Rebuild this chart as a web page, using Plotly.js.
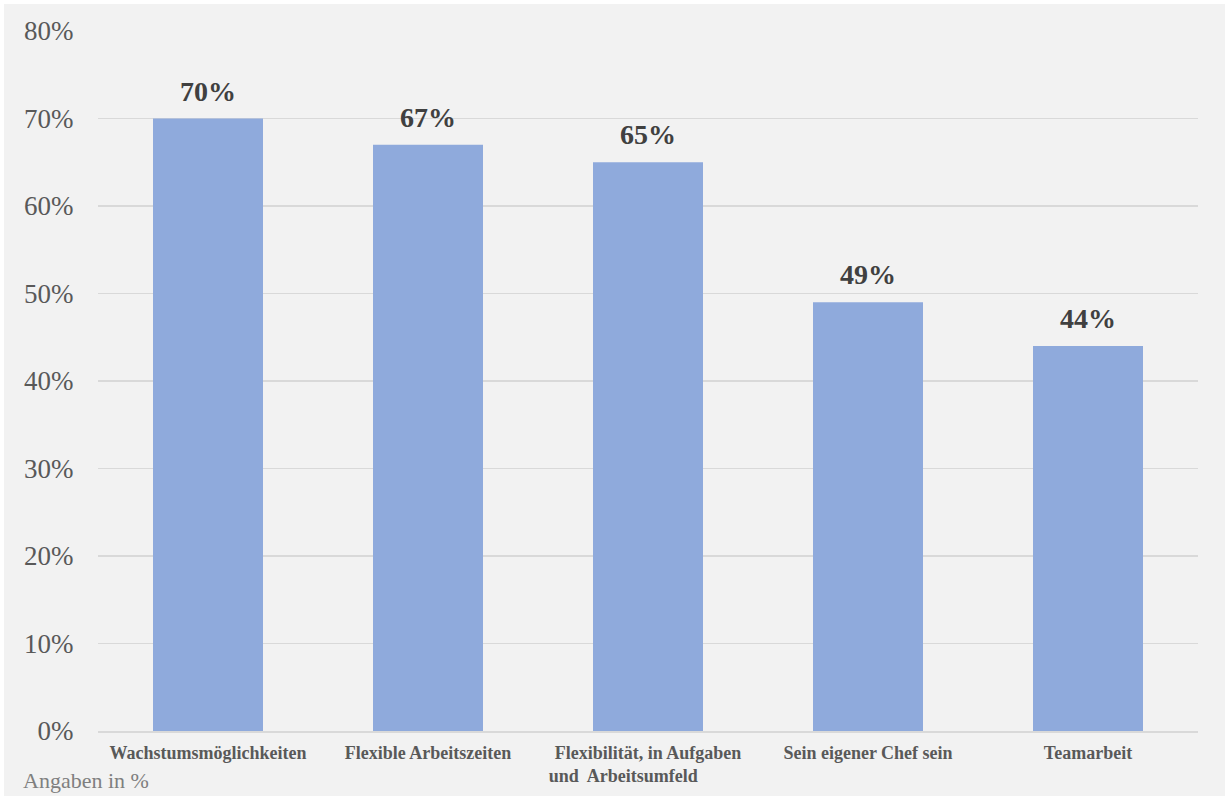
<!DOCTYPE html>
<html>
<head>
<meta charset="utf-8">
<script src="https://cdn.plot.ly/plotly-3.0.1.min.js"></script>
<style>
  html, body { margin: 0; padding: 0; background: #ffffff; }
  #chart { position: absolute; left: 4px; top: 4px; width: 1221px; height: 792px; }
</style>
</head>
<body>
<div id="chart"></div>
<script>
const categories = ["Wachstumsmöglichkeiten", "Flexible Arbeitszeiten", "Flexibilität, in Aufgaben", "Sein eigener Chef sein", "Teamarbeit"];
const tickLabels = [
  "Wachstumsmöglichkeiten",
  "Flexible Arbeitszeiten",
  "Flexibilität, in Aufgaben<br>und  Arbeitsumfeld\u00A0\u00A0\u00A0\u00A0\u00A0\u00A0\u00A0\u00A0\u00A0\u00A0\u00A0",
  "Sein eigener Chef sein",
  "Teamarbeit"
];
const values = [70, 67, 65, 49, 44];
const yTickVals = [0, 10, 20, 30, 40, 50, 60, 70, 80];
const yTickText = ["0%", "10%", "20%", "30%", "40%", "50%", "60%", "70%", "80%"];
const footnote = "Angaben in %";

const serif = '"Liberation Serif", "Times New Roman", serif';

const trace = {
  type: 'bar',
  x: categories,
  y: values,
  width: 0.5,
  marker: { color: '#8faadc', line: { width: 0 } },
  hoverinfo: 'none'
};

const annotations = categories.map((c, i) => ({
  x: c, y: values[i], xref: 'x', yref: 'y',
  text: values[i] + '%',
  showarrow: false,
  yanchor: 'bottom',
  yshift: 10,
  font: { family: serif, size: 28, color: '#404040', weight: 'bold' }
}));
annotations.push({
  x: 0, y: 0, xref: 'paper', yref: 'paper',
  xanchor: 'left', yanchor: 'top',
  xshift: -77, yshift: -35,
  text: footnote, showarrow: false,
  font: { family: serif, size: 22, color: '#7f7f7f' }
});

const layout = {
  width: 1221, height: 792,
  paper_bgcolor: '#f2f2f2',
  plot_bgcolor: '#f2f2f2',
  margin: { l: 94, r: 27, t: 27, b: 65 },
  showlegend: false,
  bargap: 0.5,
  xaxis: {
    type: 'category',
    tickvals: categories,
    ticktext: tickLabels,
    showgrid: false,
    showline: true,
    linecolor: '#d9d9d9',
    linewidth: 2,
    ticks: 'outside', ticklen: 4, tickcolor: 'rgba(0,0,0,0)',
    tickfont: { family: serif, size: 18, color: '#595959', weight: 'bold' },
    zeroline: false,
    fixedrange: true
  },
  yaxis: {
    range: [0, 80],
    tickvals: yTickVals,
    ticktext: yTickText,
    showgrid: true,
    gridcolor: '#d9d9d9',
    gridwidth: 1.5,
    zeroline: false,
    showline: false,
    ticks: 'outside', ticklen: 18, tickcolor: 'rgba(0,0,0,0)',
    tickfont: { family: serif, size: 27, color: '#595959' },
    fixedrange: true
  },
  annotations: annotations
};

Plotly.newPlot('chart', [trace], layout, { displayModeBar: false, staticPlot: true });
</script>
</body>
</html>
